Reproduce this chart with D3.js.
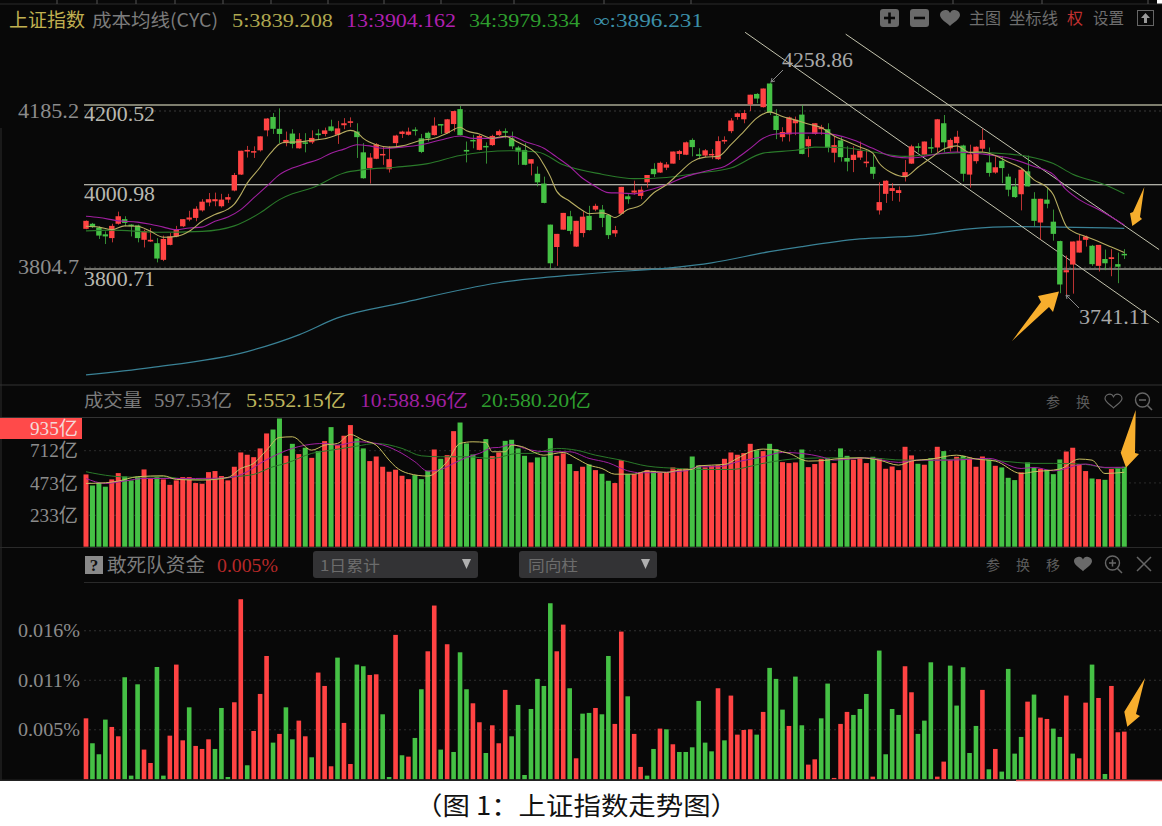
<!DOCTYPE html>
<html><head><meta charset="utf-8">
<script src="https://cdn.jsdelivr.net/npm/d3@7"></script>
<style>html,body{margin:0;padding:0;background:#fff}svg{display:block}</style></head>
<body><div id="c"></div>
<script>
const highs=[3915,3909,3901,3889,3907,3936,3925,3906,3905,3893,3897,3873,3879,3885,3902,3918,3938,3949,3966,3981,3982,3979,3979,4030,4085,4097,4096,4121,4167,4180,4192,4133,4139,4129,4129,4136,4139,4143,4163,4160,4167,4169,4154,4104,4079,4104,4096,4096,4125,
4135,4143,4144,4127,4133,4169,4152,4165,4186,4198,4108,4125,4125,4106,4125,4138,4141,4133,4097,4104,4064,4046,4021,3905,3883,3933,3938,3914,3937,3950,3955,3952,3929,3902,3996,3978,4011,3997,4025,4054,4058,4057,4083,4087,4108,4116,4091,4089,4089,4121,4121,4167,4181,4188,4227,4231,4243,4258.86,4190,4144,4171,4171,
4200,4121,4154,4150,4154,4122,4119,4096,4096,4108,4086,4075,4007,4012,4005,3997,4062,4100,4104,4108,4116,4165,4175,4116,4135,4100,4100,4096,4140,4093,4071,4071,4028,4017,4042,4073,3983,3967,3993,3941,3867,3832,3865,3881,3879,3857,3857,3846,3847,3839,3847];
const bodyTops=[3914,3907,3898,3882,3902,3925,3918,3905,3903,3890,3869,3861,3871,3877,3893,3918,3922,3943,3960,3966,3966,3965,3971,4025,4085,4087,4084,4121,4166,4170,4140,4112,4128,4114,4106,4117,4128,4136,4146,4141,4154,4159,4133,4081,4068,4101,4077,4064,4123,
4133,4133,4138,4116,4130,4148,4152,4164,4185,4190,4087,4112,4122,4097,4122,4134,4134,4116,4093,4087,4064,4028,4004,3905,3883,3933,3925,3914,3924,3926,3950,3941,3928,3892,3996,3973,3987,3989,4025,4040,4055,4051,4083,4084,4106,4112,4076,4086,4077,4109,4112,4161,4179,4180,4227,4229,4243,4256,4173,4132,4169,4163,
4176,4114,4154,4144,4139,4099,4111,4067,4075,4085,4058,4045,3959,4011,3993,3988,4032,4096,4096,4108,4094,4164,4154,4112,4120,4098,4076,4095,4112,4056,4044,4060,4021,3997,4038,4034,3967,3967,3965,3912,3866,3798,3865,3867,3877,3855,3857,3824,3828,3812,3836];
const bodyBottoms=[3895,3899,3879,3877,3873,3907,3909,3903,3873,3869,3865,3825,3822,3857,3877,3901,3917,3921,3939,3958,3961,3949,3965,3987,4026,4083,4081,4086,4136,4140,4127,4104,4102,4091,4104,4106,4124,4127,4135,4125,4149,4155,4119,4017,4042,4065,4075,4039,4104,
4127,4125,4135,4082,4116,4124,4149,4129,4152,4124,4083,4110,4087,4095,4099,4124,4130,4096,4083,4050,4053,4007,3957,3814,3852,3893,3890,3853,3885,3892,3941,3921,3880,3884,3931,3966,3982,3974,4007,4027,4031,4043,4053,4077,4075,4094,4072,4073,4076,4064,4108,4134,4170,4164,4202,4217,4195,4181,4137,4119,4126,4154,
4077,4096,4127,4139,4093,4080,4069,4058,4062,4068,4054,4028,3939,3979,3986,3981,4020,4053,4092,4075,4091,4093,4106,4091,4104,4028,4026,4059,4090,4030,4031,4042,3989,3971,3978,3997,3914,3910,3955,3883,3765,3793,3811,3839,3869,3812,3808,3814,3824,3806,3833];
const lows=[3894,3897,3871,3859,3863,3905,3901,3877,3863,3851,3864,3816,3819,3856,3875,3899,3913,3913,3936,3949,3949,3946,3957,3985,4025,4068,4067,4083,4121,4127,4104,4096,4091,4090,4081,4102,4112,4121,4133,4102,4139,4144,4067,4016,4004,4064,4050,4031,4094,
4117,4123,4123,4079,4108,4123,4127,4128,4133,4123,4056,4091,4086,4053,4097,4122,4116,4089,4050,4049,4024,3997,3956,3801,3808,3893,3882,3852,3875,3891,3937,3899,3871,3876,3930,3955,3977,3966,3994,4020,4030,4037,4053,4062,4074,4071,4064,4069,4064,4062,4102,4129,4163,4154,4185,4205,4194,4175,4114,4108,4108,4124,
4076,4069,4125,4125,4081,4056,4058,4034,4032,4062,4044,4015,3929,3957,3962,3960,4009,4052,4081,4073,4079,4081,4081,4083,4081,4009,3994,4053,4082,4021,4028,4005,3973,3969,3939,3997,3901,3869,3944,3867,3745,3741.11,3744,3839,3853,3808,3795,3798,3784,3768,3824];
const directions="RGGGRRGGGRRGRRRRRRRRRRRRRRRRRGGRGRGRGRGRRRGGRRRRRRRGGGRGRRGGGRGRRGGGGRGGGRRGRRGRGGRRGRRRGRRRRRGGRRRRRRRRGRGGRRRGRRRGRGGRRRGRRRRRRGRGRGRRGRRRGRGGGRGGRGGGRRRRGRGRGG";
const volumes=[536,454,474,445,499,546,521,492,519,573,504,516,499,459,492,516,516,472,467,553,561,524,492,593,699,682,664,729,840,869,951,674,763,687,734,659,709,783,887,753,823,902,803,729,635,669,593,556,571,
526,501,531,501,563,721,652,679,857,921,766,684,650,798,672,699,785,793,729,674,625,662,667,805,674,692,613,561,593,610,568,541,489,472,642,538,538,551,568,563,548,548,588,576,580,669,603,588,600,605,652,699,682,694,763,716,709,763,724,
627,620,625,721,590,613,650,655,620,729,674,645,662,620,667,657,578,595,568,741,677,615,608,657,741,709,642,667,674,662,593,669,645,600,588,511,494,551,625,585,578,571,538,647,706,734,613,561,506,501,496,576,588,593];
const fundValues=[6.65,3.93,2.73,6.51,5.71,4.69,11.13,0.40,10.36,3.24,1.78,12.25,0.40,4.76,12.51,4.25,7.85,3.64,3.31,4.36,3.31,7.78,0.25,8.40,19.64,1.53,5.27,9.31,13.45,4.00,4.95,7.85,4.36,6.40,4.69,2.40,11.64,10.18,1.42,13.27,6.15,1.67,12.51,12.33,11.38,11.45,7.09,0.25,15.75,
2.62,2.47,4.51,9.82,13.96,18.95,3.24,14.73,2.98,13.85,9.82,8.29,6.22,2.87,5.89,3.93,9.75,4.69,8.11,0.47,7.67,10.95,10.18,19.2,13.96,16.87,9.93,2.29,7.16,7.24,7.78,7.09,13.45,6.04,16.11,9.05,4.95,1.35,0.40,3.31,5.53,5.45,3.82,2.98,2.98,3.49,8.55,4.00,3.05,9.93,4.25,9.13,4.87,5.38,5.45,4.87,7.35,12.15,10.95,7.60,5.82,
11.2,5.89,1.60,2.18,6.65,10.44,0.15,6.04,7.35,7.02,7.67,9.31,0.29,14.04,2.73,7.67,7.02,12.33,9.49,4.95,6.40,12.76,0.29,1.93,12.40,8.04,12.22,2.87,5.82,9.75,1.09,3.31,0.84,12.04,2.80,4.62,8.47,9.24,6.73,6.58,5.53,4.62,9.13,2.80,2.29,8.36,12.51,8.87,0.58,10.18,5.13,5.20];
const fundDirections="RGGGRRGGGRRGGRRRGRRRGGGRRGRRRGRGGRRGRRRGRRGGRRGGRGRGGRRGRGGGRRGRRRGGGGGGGRRGRGGRGGRRGRRGGRGRGGGGGGRGRRRRGRGGGRGGRRGGRRRGGGRGGGGRRGGGRRGGGGGRGRGGGGRGRRGGRGRRGRGRRR";

const ma5Idx=[0,2,4,6,8,10,12,14,16,18,20,22,23,24,25,27,28,29,30,31,33,35,37,39,41,42,43,45,47,49,52,54,56,58,59,61,63,65,67,69,70,71,72,73,75,77,78,80,81,82,84,86,88,90,92,94,96,98,100,102,104,106,108,110,112,114,116,118,120,122,123,125,127,129,131,133,135,137,139,141,143,145,147,149,150,151,152,153,155,157,159,161];
const ma5Val=[3901,3899,3893,3902,3901,3889,3875,3877,3889,3913,3929,3942,3954,3977,4005,4044,4067,4086,4102,4106,4107,4111,4115,4125,4136,4131,4116,4100,4094,4097,4111,4116,4129,4144,4135,4127,4116,4121,4106,4089,4075,4050,4021,3985,3961,3939,3931,3933,3929,3922,3941,3951,3981,4001,4030,4058,4069,4071,4100,4133,4167,4183,4171,4162,4152,4143,4122,4108,4094,4079,4054,4030,4021,4044,4067,4089,4097,4081,4082,4073,4057,4042,4013,3995,3977,3937,3901,3889,3877,3865,3852,3839.2];
const ma13Idx=[0,2,5,8,10,12,14,16,18,20,22,24,26,28,30,32,34,36,38,40,42,44,46,49,52,55,58,60,63,66,68,71,73,75,77,79,81,83,85,87,90,93,95,97,99,101,103,105,107,110,114,119,122,125,128,132,135,139,143,147,150,152,154,157,161];
const ma13Val=[3925,3922,3914,3911,3906,3899,3893,3897,3899,3913,3923,3941,3969,3997,4026,4042,4053,4063,4079,4089,4100,4097,4091,4094,4100,4112,4122,4116,4116,4121,4108,4091,4069,4046,4017,3997,3982,3981,3979,3987,4001,4021,4030,4038,4046,4067,4091,4116,4127,4129,4129,4112,4091,4071,4067,4077,4082,4077,4067,4046,4026,3989,3965,3941,3904.2];
const ma34Idx=[0,4,11,18,23,27,30,32,35,40,43,48,53,58,66,70,74,80,85,90,95,100,105,106,110,113,117,122,127,132,138,143,146,150,153,158,161];
const ma34Val=[3890,3892,3887,3889,3902,3933,3965,3979,3993,4030,4038,4044,4053,4073,4085,4082,4050,4027,4016,4019,4030,4042,4079,4081,4086,4094,4093,4082,4071,4077,4081,4077,4071,4053,4027,4001,3979.3];
const maInfIdx=[0,10,25,33,39,49,64,80,91,97,106,111,120,129,137,144,161];
const maInfVal=[3563,3579,3614,3651,3689,3723,3769,3792,3804,3815,3841,3853,3871,3879,3895,3900,3896.2];

const vol5Idx=[0,3,5,8,12,14,18,22,24,26,28,30,32,35,37,39,41,43,45,47,48,50,53,55,56,58,60,62,63,65,66,68,69,71,74,76,78,80,82,85,87,90,92,94,95,99,101,103,105,109,112,115,116,120,123,126,128,131,135,138,141,145,147,151,154,156,158,161];
const vol5Val=[469,474,487,519,526,499,494,514,580,618,716,810,815,716,753,766,832,790,753,642,593,543,524,580,630,766,778,773,704,704,753,736,711,679,699,655,605,580,538,538,561,551,568,573,600,610,655,704,724,692,635,642,650,659,642,605,635,650,679,650,635,543,556,576,650,642,543,552];
const vol10Idx=[0,3,6,9,13,17,22,25,27,30,32,34,37,39,42,45,49,51,53,55,57,59,61,63,64,66,68,70,72,75,78,81,84,86,90,93,95,98,101,105,108,111,114,116,121,126,129,134,140,145,147,150,155,158,161];
const vol10Val=[506,469,487,506,506,506,511,556,618,692,729,753,766,753,778,766,692,630,561,573,618,662,692,734,736,758,729,709,704,704,655,622,563,548,553,563,593,593,630,667,699,692,667,642,659,625,642,642,655,580,588,563,613,588,589];
const vol20Idx=[0,4,7,12,16,20,23,26,29,31,35,38,42,45,49,52,55,59,63,67,69,73,76,79,83,87,92,95,100,105,108,111,116,121,127,132,137,142,147,150,155,158,161];
const vol20Val=[556,524,516,519,499,501,519,536,593,618,692,716,746,766,729,674,667,667,655,692,692,729,716,679,642,598,580,573,573,618,642,655,659,659,642,642,655,635,618,618,610,585,580];

const priceAxisTicks=[4185.2,3804.7];
const levels=[4200.52,4000.98,3800.71];
const levelColors=["#a6a690","#e4e4d8","#dcdcd0"];
const volumeTicks=[233,473,712];
const fundTicks=[5.4,10.8,16.2];
const channels=[[[102.2,4391],[166.4,3678]],[[117.8,4386],[166.4,3846]]];

const W=1162,H=826,n=highs.length;
const RED="#ff4343",GREEN="#45c145",BG="#080808";
const SERIF='"Liberation Serif","Noto Sans CJK SC",serif';
const CJK='"Noto Sans CJK SC","Liberation Serif",sans-serif';
const svg=d3.select("#c").append("svg").attr("width",W).attr("height",H);
svg.append("rect").attr("width",W).attr("height",H).attr("fill","#fff");
svg.append("rect").attr("width",W).attr("height",781).attr("fill",BG);
svg.append("rect").attr("x",1157).attr("width",5).attr("height",4).attr("fill","#fff");

const x=d3.scaleLinear().domain([0,n-1]).range([86,1124.3]);
const yP=d3.scaleLog().domain([3800.71,4200.52]).range([269,105]);
const yV=d3.scaleLinear().domain([0,712]).range([546.7,450.7]);
const yF=d3.scaleLinear().domain([0,16.25]).range([779.3,630.3]);

function txt(x1,x2,y,s,color,size,fam){
  return svg.append("text").attr("x",x1).attr("y",y).attr("fill",color).attr("font-size",size)
    .attr("font-family",fam||SERIF).attr("textLength",x2-x1).attr("lengthAdjust","spacingAndGlyphs").text(s);
}
function hline(y,x1,x2,c,w,dash){
  const l=svg.append("line").attr("x1",x1).attr("x2",x2).attr("y1",y).attr("y2",y).attr("stroke",c).attr("stroke-width",w||1);
  if(dash) l.attr("stroke-dasharray",dash);
  return l;
}
function leftAxis(scale,ticks,fmt,xPos,widthPx,size){
  const g=svg.append("g").attr("transform",`translate(${xPos},0)`)
    .call(d3.axisLeft(scale).tickValues(ticks).tickFormat(fmt).tickSize(0).tickPadding(0));
  g.select(".domain").remove();
  g.selectAll("text").attr("fill","#8c8c8c").attr("font-size",size).attr("font-family",SERIF)
    .attr("textLength",widthPx).attr("lengthAdjust","spacingAndGlyphs");
}

// frame decoration
hline(4,0,W,"#2a2a2a");
[57,97,136,175,223,271,328,384,441,514,604,691,953,1042,1148].forEach(v=>{
  svg.append("line").attr("x1",v).attr("x2",v).attr("y1",0).attr("y2",4).attr("stroke","#555");});
svg.append("line").attr("x1",1).attr("x2",1).attr("y1",128).attr("y2",781).attr("stroke","#2c2c2c");
hline(385,0,W,"#333");hline(417.5,0,W,"#333");hline(547.5,0,W,"#2a2a2a");hline(582.5,84,W,"#2a2a2a");

// price grid
priceAxisTicks.forEach(v=>hline(yP(v),84,W,"#3a3a3a",1,"2 3"));
levels.forEach((v,i)=>hline(yP(v),84,W,levelColors[i],i==0?1.5:1.1));
leftAxis(yP,priceAxisTicks,d3.format(".1f"),79,61,20);
[["4200.52",121],["4000.98",201],["3800.71",286]].forEach(d=>txt(84,155,d[1],d[0],"#b8b8b0",20));

// long-run moving averages under candles
const lineP=(idx,val,c,w)=>{svg.append("path").attr("d",d3.line().x(d=>x(d[0])).y(d=>yP(d[1])).curve(d3.curveMonotoneX)(idx.map((v,i)=>[v,val[i]])))
  .attr("fill","none").attr("stroke",c).attr("stroke-width",w||1.1);};
lineP(maInfIdx,maInfVal,"#3a8296",1.2);

// channels
channels.forEach(c=>{svg.append("path").attr("d",d3.line().x(d=>x(d[0])).y(d=>yP(d[1]))(c)).attr("fill","none").attr("stroke","#c4c4ae").attr("stroke-width",1);});

// candles
const cg=svg.append("g");
d3.range(n).forEach(i=>{
  const c=directions[i]==="R"?RED:GREEN;
  const xc=Math.round(x(i))+0.5;
  const open=directions[i]==="R"?bodyBottoms[i]:bodyTops[i], close=directions[i]==="R"?bodyTops[i]:bodyBottoms[i];
  cg.append("line").attr("x1",xc).attr("x2",xc).attr("y1",yP(highs[i])).attr("y2",yP(lows[i])).attr("stroke",c).attr("stroke-width",1).attr("opacity",0.72);
  const t=yP(Math.max(open,close)),b=yP(Math.min(open,close));
  cg.append("rect").attr("x",x(i)-2.7).attr("width",5.4).attr("y",t).attr("height",Math.max(1.5,b-t)).attr("fill",c);
});
lineP(ma34Idx,ma34Val,"#2a7a2a",1.1);
lineP(ma13Idx,ma13Val,"#a020a0",1.1);
lineP(ma5Idx,ma5Val,"#b8ae62",1.1);

// top legend
txt(9,85,27,"上证指数","#c0b050",19,CJK);
txt(92,218,27,"成本均线(CYC)","#7c7c7c",18,CJK);
txt(232,333,27,"5:3839.208","#b0a850",19);
txt(346,456,27,"13:3904.162","#b020b0",19);
txt(469,580,27,"34:3979.334","#2e9e2e",19);
txt(593,703,27,"∞:3896.231","#3c90a8",19);

// toolbar
[[880,"+"],[910,"−"]].forEach(d=>{
  svg.append("rect").attr("x",d[0]).attr("y",9).attr("width",19).attr("height",18).attr("rx",3).attr("fill","#6a6a6a");
  svg.append("rect").attr("x",d[0]+4).attr("y",16.7).attr("width",11).attr("height",2.6).attr("fill",BG);
  if(d[1]==="+") svg.append("rect").attr("x",d[0]+8.2).attr("y",12.5).attr("width",2.6).attr("height",11).attr("fill",BG);
});
function heart(cx,cy,s,fill,stroke){
  svg.append("path").attr("transform",`translate(${cx},${cy}) scale(${s})`)
   .attr("d","M0,8 C-3,5 -10,1 -10,-3 C-10,-7 -6,-8 -4,-8 C-2,-8 -1,-7 0,-5 C1,-7 2,-8 4,-8 C6,-8 10,-7 10,-3 C10,1 3,5 0,8 Z")
   .attr("fill",fill).attr("stroke",stroke||"none").attr("stroke-width",1.4);
}
heart(950,18,1,"#6a6a6a");
txt(969,1001,24,"主图","#6e6e6e",16,CJK);
txt(1009,1058,24,"坐标线","#6e6e6e",16,CJK);
txt(1067,1083,24,"权","#c03030",16,CJK);
txt(1093,1124,24,"设置","#6e6e6e",16,CJK);
svg.append("rect").attr("x",1137.5).attr("y",10.5).attr("width",16).attr("height",15).attr("fill","none").attr("stroke","#666");
svg.append("path").attr("d","M1145.5,13 L1150,18 L1147,18 L1147,23 L1144,23 L1144,18 L1141,18 Z").attr("fill","#999");

// annotations
txt(782,853,67,"4258.86","#a8a8a8",20);
svg.append("path").attr("d","M783,70 L771,82 M771,82 l4,-1 M771,82 l1,-4").attr("stroke","#8a8a8a").attr("fill","none");
txt(1079,1150,324,"3741.11","#a8a8a8",20);
svg.append("path").attr("d","M1079,308 L1066,295 M1066,295 l4,1 M1066,295 l1,4").attr("stroke","#8a8a8a").attr("fill","none");

// volume panel
txt(84,142,407,"成交量","#7c7c7c",18,CJK);
txt(154,232,407,"597.53亿","#7c7c7c",18);
txt(246,346,407,"5:552.15亿","#bdb45c",18);
txt(360,468,407,"10:588.96亿","#a020a0",18);
txt(481,591,407,"20:580.20亿","#2e9e2e",18);
txt(1046,1060,407,"参","#5c5c5c",14,CJK);
txt(1076,1090,407,"换","#5c5c5c",14,CJK);
heart(1113.5,401,0.85,"none","#666");
svg.append("circle").attr("cx",1142.5).attr("cy",400).attr("r",7).attr("fill","none").attr("stroke","#666").attr("stroke-width",1.4);
svg.append("path").attr("d","M1139,400 H1146 M1147.5,405.5 L1152,410").attr("stroke","#666").attr("stroke-width",1.6);
svg.append("rect").attr("x",0).attr("y",418).attr("width",82).attr("height",21).attr("fill","#ff4a4a");
txt(30,78,435,"935亿","#f5d8d8",19);
volumeTicks.forEach(v=>hline(yV(v),84,W,"#2c2c2c",1,"2 3"));
leftAxis(yV,volumeTicks,d=>d+"亿",78,48,19);
const vg=svg.append("g");
vg.selectAll("rect").data(volumes).join("rect").attr("x",(d,i)=>x(i)-2.5).attr("width",5)
  .attr("y",d=>yV(d)).attr("height",d=>yV(0)-yV(d)).attr("fill",(d,i)=>directions[i]==="R"?RED:GREEN);
const lineV=(idx,val,c)=>{svg.append("path").attr("d",d3.line().x(d=>x(d[0])).y(d=>yV(d[1])).curve(d3.curveMonotoneX)(idx.map((v,i)=>[v,val[i]])))
  .attr("fill","none").attr("stroke",c).attr("stroke-width",1);};
lineV(vol20Idx,vol20Val,"#2a7a2a");
lineV(vol10Idx,vol10Val,"#a020a0");
lineV(vol5Idx,vol5Val,"#c8be60");

// fund panel header
svg.append("rect").attr("x",85).attr("y",556).attr("width",18).attr("height",18).attr("fill","#8a8a8a");
svg.append("text").attr("x",94).attr("y",571).attr("text-anchor","middle").attr("font-size",17).attr("font-weight","bold").attr("fill","#111").attr("font-family",SERIF).text("?");
txt(107,205,572,"敢死队资金","#7c7c7c",19,CJK);
txt(217,278,572,"0.005%","#b82828",18);
[[313,165],[519,138]].forEach(d=>{
  svg.append("rect").attr("x",d[0]).attr("y",551).attr("width",d[1]).attr("height",27).attr("rx",3).attr("fill","#333335");
  const tx=d[0]+d[1]-11;
  svg.append("path").attr("d",`M${tx-5},559 H${tx+4} L${tx-0.5},569 Z`).attr("fill","#b0b0b0");
});
txt(320,380,571,"1日累计","#6c6c6c",15,CJK);
txt(528,578,571,"同向柱","#6c6c6c",15,CJK);
txt(986,1000,570,"参","#5c5c5c",14,CJK);
txt(1016,1030,570,"换","#5c5c5c",14,CJK);
txt(1046,1060,570,"移","#5c5c5c",14,CJK);
heart(1083,564,0.9,"#6a6a6a");
svg.append("circle").attr("cx",1112.5).attr("cy",563).attr("r",7).attr("fill","none").attr("stroke","#666").attr("stroke-width",1.4);
svg.append("path").attr("d","M1109,563 H1116 M1112.5,559.5 V566.5 M1117.5,568.5 L1122,573").attr("stroke","#666").attr("stroke-width",1.5);
svg.append("path").attr("d","M1137,557 L1151,571 M1151,557 L1137,571").attr("stroke","#666").attr("stroke-width",1.5);

// fund panel
fundTicks.forEach(v=>hline(yF(v),84,W,"#303030",1,"2 3"));
leftAxis(yF,fundTicks,d=>(d/1000).toFixed(3)+"%",80,62,19);
svg.append("g").selectAll("rect").data(fundValues).join("rect").attr("x",(d,i)=>x(i)-2.3).attr("width",4.6)
  .attr("y",d=>yF(d)).attr("height",d=>yF(0)-yF(d)).attr("fill",(d,i)=>fundDirections[i]==="R"?RED:GREEN);
hline(780.2,0,W,"#222",1.5);
hline(780.6,1016,W,"#e05050",1.5);

// arrows
const ORANGE="#f7ae2d";
[[[1012,341],[1041,302],[1038,296],[1059,291.5],[1053,312],[1049,307]],
 [[1144.3,187],[1133,212],[1130,213.3],[1132.3,226],[1142,219],[1140,217]],
 [[1135.7,410],[1120.7,452.7],[1126,467.7],[1139,454],[1135,453]],
 [[1145,678],[1124.3,711.7],[1127.3,726.7],[1140,716],[1136,714]]
].forEach(p=>svg.append("polygon").attr("points",p.join(" ")).attr("fill",ORANGE));

// caption
svg.append("text").attr("x",415).attr("y",815).attr("font-size",25).attr("fill","#111").attr("font-family",CJK)
  .attr("textLength",323).attr("lengthAdjust","spacingAndGlyphs").text("（图 1：上证指数走势图）");
</script></body></html>
